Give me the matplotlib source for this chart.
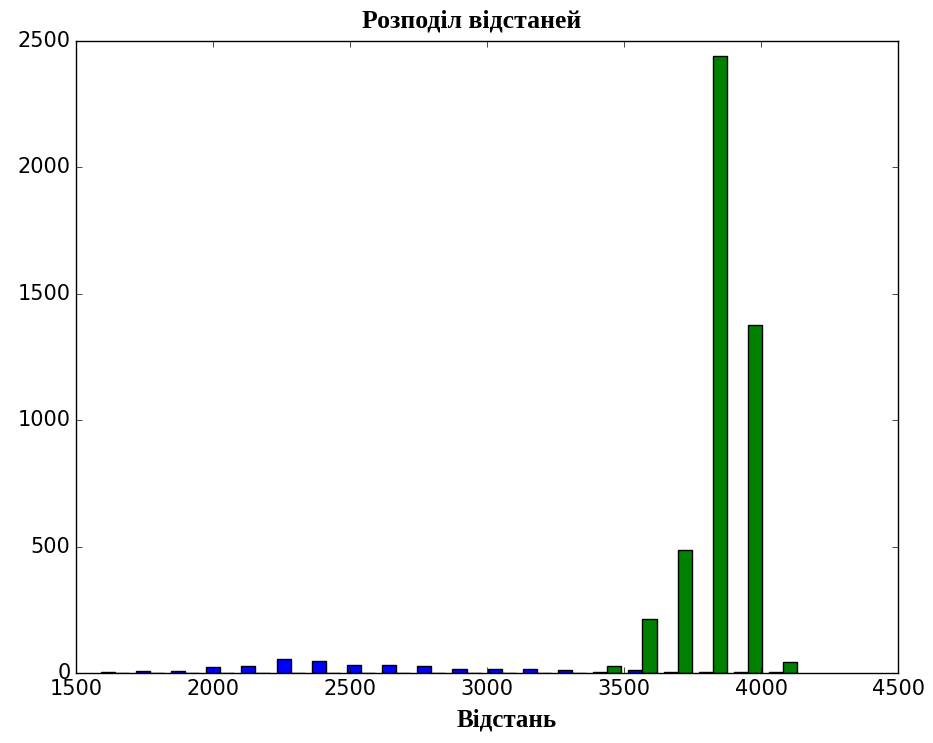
import numpy as np
import matplotlib
matplotlib.use("Agg")
import matplotlib.pyplot as plt

# ---------------------------------------------------------------------------
# Data
# ---------------------------------------------------------------------------
BIN_START = 1577.0
BIN_WIDTH = 128.4
N_BINS = 20

counts_blue = [5, 9, 9, 24, 29, 55, 48, 32, 32, 28,
               17, 16, 16, 12, 5, 11, 3, 3, 3, 5]
counts_green = [0, 0, 0, 0, 0, 0, 0, 0, 0, 0,
                0, 0, 0, 0, 28, 215, 487, 2440, 1375, 45]

x_ticks = [1500, 2000, 2500, 3000, 3500, 4000, 4500]
y_ticks = [0, 500, 1000, 1500, 2000, 2500]

title_text = "Розподіл відстаней"
xlabel_text = "Відстань"

# ---------------------------------------------------------------------------
# Plot
# ---------------------------------------------------------------------------
plt.style.use("classic")

edges = BIN_START + BIN_WIDTH * np.arange(N_BINS + 1)
centers = 0.5 * (edges[:-1] + edges[1:])

fig = plt.figure(figsize=(9.33, 7.43), dpi=100)
fig.patch.set_facecolor("white")
ax = fig.add_axes([0.0815, 0.0942, 0.881, 0.8506])

ax.hist([centers, centers], bins=edges,
        weights=[counts_blue, counts_green],
        color=["b", "g"], edgecolor="black", linewidth=1.0)

ax.set_xlim(1500, 4500)
ax.set_ylim(0, 2500)
ax.set_xticks(x_ticks)
ax.set_yticks(y_ticks)
ax.tick_params(labelsize=15)

ax.set_title(title_text, family="Liberation Serif", fontweight="bold",
             fontsize=18.5, pad=10)
ax.title.set_x(0.481)
ax.set_xlabel(xlabel_text, family="Liberation Serif", fontweight="bold",
              fontsize=18, labelpad=7)
ax.xaxis.label.set_x(0.524)

fig.savefig("out.png", dpi=100, facecolor="white")
